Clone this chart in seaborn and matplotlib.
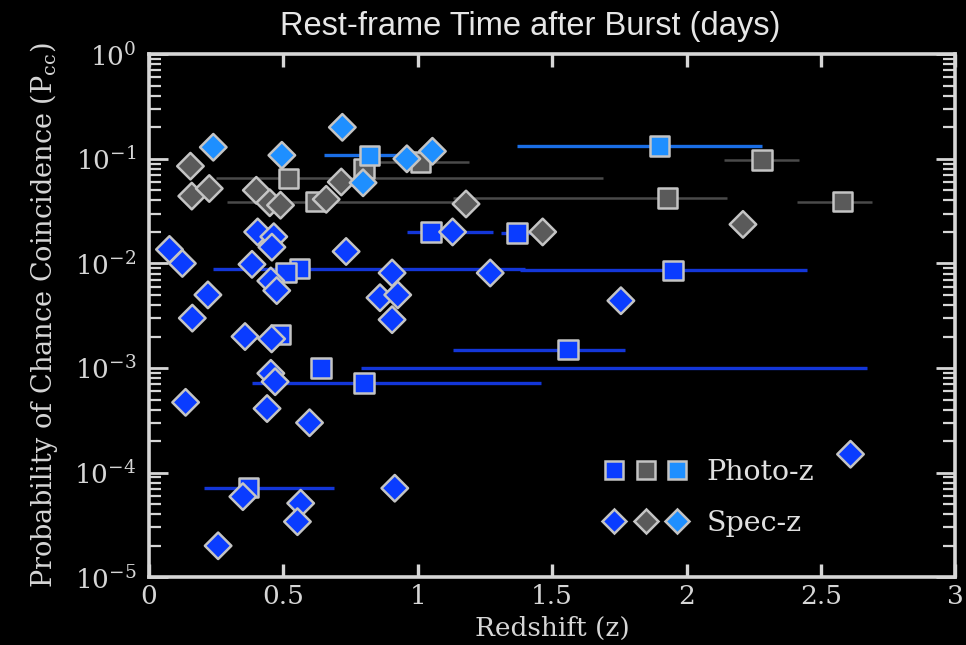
import numpy as np
import pandas as pd
import matplotlib
matplotlib.use("Agg")
import matplotlib.pyplot as plt
import seaborn as sns
from matplotlib.lines import Line2D
from matplotlib.legend_handler import HandlerTuple
from matplotlib.ticker import LogLocator, NullFormatter

# ---------------- data ----------------
# Photo-z (squares): redshift, Pcc, colour group, error-bar range
photo_z = [1.05, 1.37, 0.56, 0.51, 1.95, 0.49, 0.64, 0.80, 1.56, 0.37,
           0.52, 0.62, 0.80, 1.01, 1.93, 2.28, 2.58,
           0.82, 1.90]
photo_p = [0.020, 0.0195, 0.0089, 0.0082, 0.0086, 0.0021, 0.00100, 0.00072, 0.0015, 7.2e-5,
           0.065, 0.039, 0.081, 0.093, 0.042, 0.097, 0.039,
           0.108, 0.132]
photo_grp = ["blue"] * 10 + ["gray"] * 7 + ["light"] * 2
photo_lo = [0.96, 1.31, 0.24, np.nan, 1.38, np.nan, 0.79, 0.385, 1.13, 0.207,
            0.25, 0.29, np.nan, 0.83, 1.13, 2.14, 2.41,
            0.65, 1.37]
photo_hi = [1.28, 1.43, 1.40, np.nan, 2.45, np.nan, 2.67, 1.46, 1.77, 0.69,
            1.69, 1.15, np.nan, 1.19, 2.15, 2.42, 2.69,
            0.93, 2.28]

# Spec-z (diamonds)
spec_z = [0.077, 0.125, 0.405, 0.465, 0.458, 0.734, 0.384, 0.454, 0.476, 1.13,
          0.905, 1.27, 0.22, 0.162, 0.86, 0.926, 0.905, 1.756, 0.358, 0.457,
          0.454, 0.47, 0.137, 0.44, 0.598, 2.61, 0.35, 0.565, 0.553, 0.258, 0.915,
          0.155, 0.16, 0.225, 0.40, 0.45, 0.49, 0.716, 0.66, 1.18, 1.465, 2.21,
          0.24, 0.495, 0.72, 0.797, 0.96, 1.055]
spec_p = [0.0136, 0.0100, 0.020, 0.018, 0.0143, 0.013, 0.0098, 0.0068, 0.0055, 0.020,
          0.0081, 0.0081, 0.0050, 0.0030, 0.0047, 0.0050, 0.0029, 0.0044, 0.0020, 0.0019,
          0.00089, 0.00074, 0.00047, 0.00041, 0.00030, 0.00015, 5.9e-5, 5.1e-5, 3.4e-5, 2.0e-5, 7.1e-5,
          0.085, 0.044, 0.052, 0.050, 0.038, 0.036, 0.060, 0.041, 0.037, 0.020, 0.0236,
          0.129, 0.108, 0.20, 0.059, 0.10, 0.118]
spec_grp = ["blue"] * 31 + ["gray"] * 11 + ["light"] * 6

group_order = ["blue", "gray", "light"]
x_ticks = [0, 0.5, 1, 1.5, 2, 2.5, 3]
x_ticklabels = ["0", "0.5", "1", "1.5", "2", "2.5", "3"]

# ---------------- style ----------------
fill = {"blue": "#0a3cff", "gray": "#5a5a5a", "light": "#1e8fff"}
errc = {"blue": "#1336d8", "gray": "#4a4a4a", "light": "#1a6ee6"}
errw = {"blue": 2.4, "gray": 1.8, "light": 2.4}
edge = "#c4c4c4"
fg = "#d6d6d6"

sns.set_style({"axes.facecolor": "black", "figure.facecolor": "black",
               "axes.grid": False})
plt.rcParams["font.family"] = ["DejaVu Serif"]
plt.rcParams["mathtext.fontset"] = "dejavuserif"

fig = plt.figure(figsize=(9.66, 6.45), dpi=100, facecolor="black")
ax = fig.add_axes([0.154, 0.105, 0.835, 0.811])
ax.set_facecolor("black")

photo = pd.DataFrame({"z": photo_z, "p": photo_p, "grp": photo_grp,
                      "lo": photo_lo, "hi": photo_hi})
spec = pd.DataFrame({"z": spec_z, "p": spec_p, "grp": spec_grp})

# error bars of photo-z
for g in group_order:
    sub = photo[(photo.grp == g) & photo.lo.notna()]
    ax.hlines(sub.p, sub.lo, sub.hi, colors=errc[g], linewidth=errw[g], zorder=1)

sns.scatterplot(data=photo, x="z", y="p", hue="grp", hue_order=group_order,
                palette=fill, marker="s", s=14 ** 2, edgecolor=edge,
                linewidth=1.8, legend=False, ax=ax, zorder=3)
sns.scatterplot(data=spec, x="z", y="p", hue="grp", hue_order=group_order,
                palette=fill, marker="D", s=13.5 ** 2, edgecolor=edge,
                linewidth=1.8, legend=False, ax=ax, zorder=4)

ax.set_yscale("log")
ax.set_xlim(0, 3)
ax.set_ylim(1e-5, 1)
ax.set_xticks(x_ticks)
ax.set_xticklabels(x_ticklabels)
ax.yaxis.set_major_locator(LogLocator(base=10, numticks=10))
ax.yaxis.set_minor_locator(LogLocator(base=10, subs=np.arange(2, 10), numticks=20))
ax.yaxis.set_minor_formatter(NullFormatter())

for sp in ax.spines.values():
    sp.set_color(fg)
    sp.set_linewidth(2.6)

ax.tick_params(axis="x", which="major", direction="in", length=9.5, width=2.4,
               color=fg, top=True, labelcolor=fg, labelsize=19, pad=5)
ax.tick_params(axis="y", which="major", direction="in", length=13.5, width=2.0,
               color=fg, right=True, labelcolor=fg, labelsize=19, pad=9)
ax.tick_params(axis="y", which="minor", direction="in", length=8.5, width=1.6,
               color=fg, right=True)
ax.tick_params(axis="x", which="minor", bottom=False, top=False)

ax.set_xlabel("Redshift (z)", color=fg, fontsize=19)
ax.xaxis.set_label_coords(0.5, -0.074)
ax.set_ylabel("Probability of Chance Coincidence (P$_{\\rm cc}$)", color=fg,
              fontsize=19.5, labelpad=10)

fig.text(530 / 966, 1 - 26 / 645, "Rest-frame Time after Burst (days)",
         ha="center", va="center", color="#e6e6e6", fontsize=23.5,
         family=["Liberation Sans", "DejaVu Sans"])

# legend
sq = tuple(Line2D([], [], ls="none", marker="s", ms=13.5, mfc=fill[g], mec=edge, mew=1.8)
           for g in group_order)
dm = tuple(Line2D([], [], ls="none", marker="D", ms=12, mfc=fill[g], mec=edge, mew=1.8)
           for g in group_order)
ax.legend([sq, dm], ["Photo-z", "Spec-z"],
          handler_map={tuple: HandlerTuple(ndivide=None, pad=0.0)},
          loc="center left", bbox_to_anchor=(0.54, 0.152), frameon=False,
          labelcolor="#e0e0e0", prop={"family": "DejaVu Serif", "size": 20.5},
          handlelength=3.3, labelspacing=0.85, borderpad=0, handletextpad=0.5)

fig.savefig("out.png", dpi=100, facecolor="black")
